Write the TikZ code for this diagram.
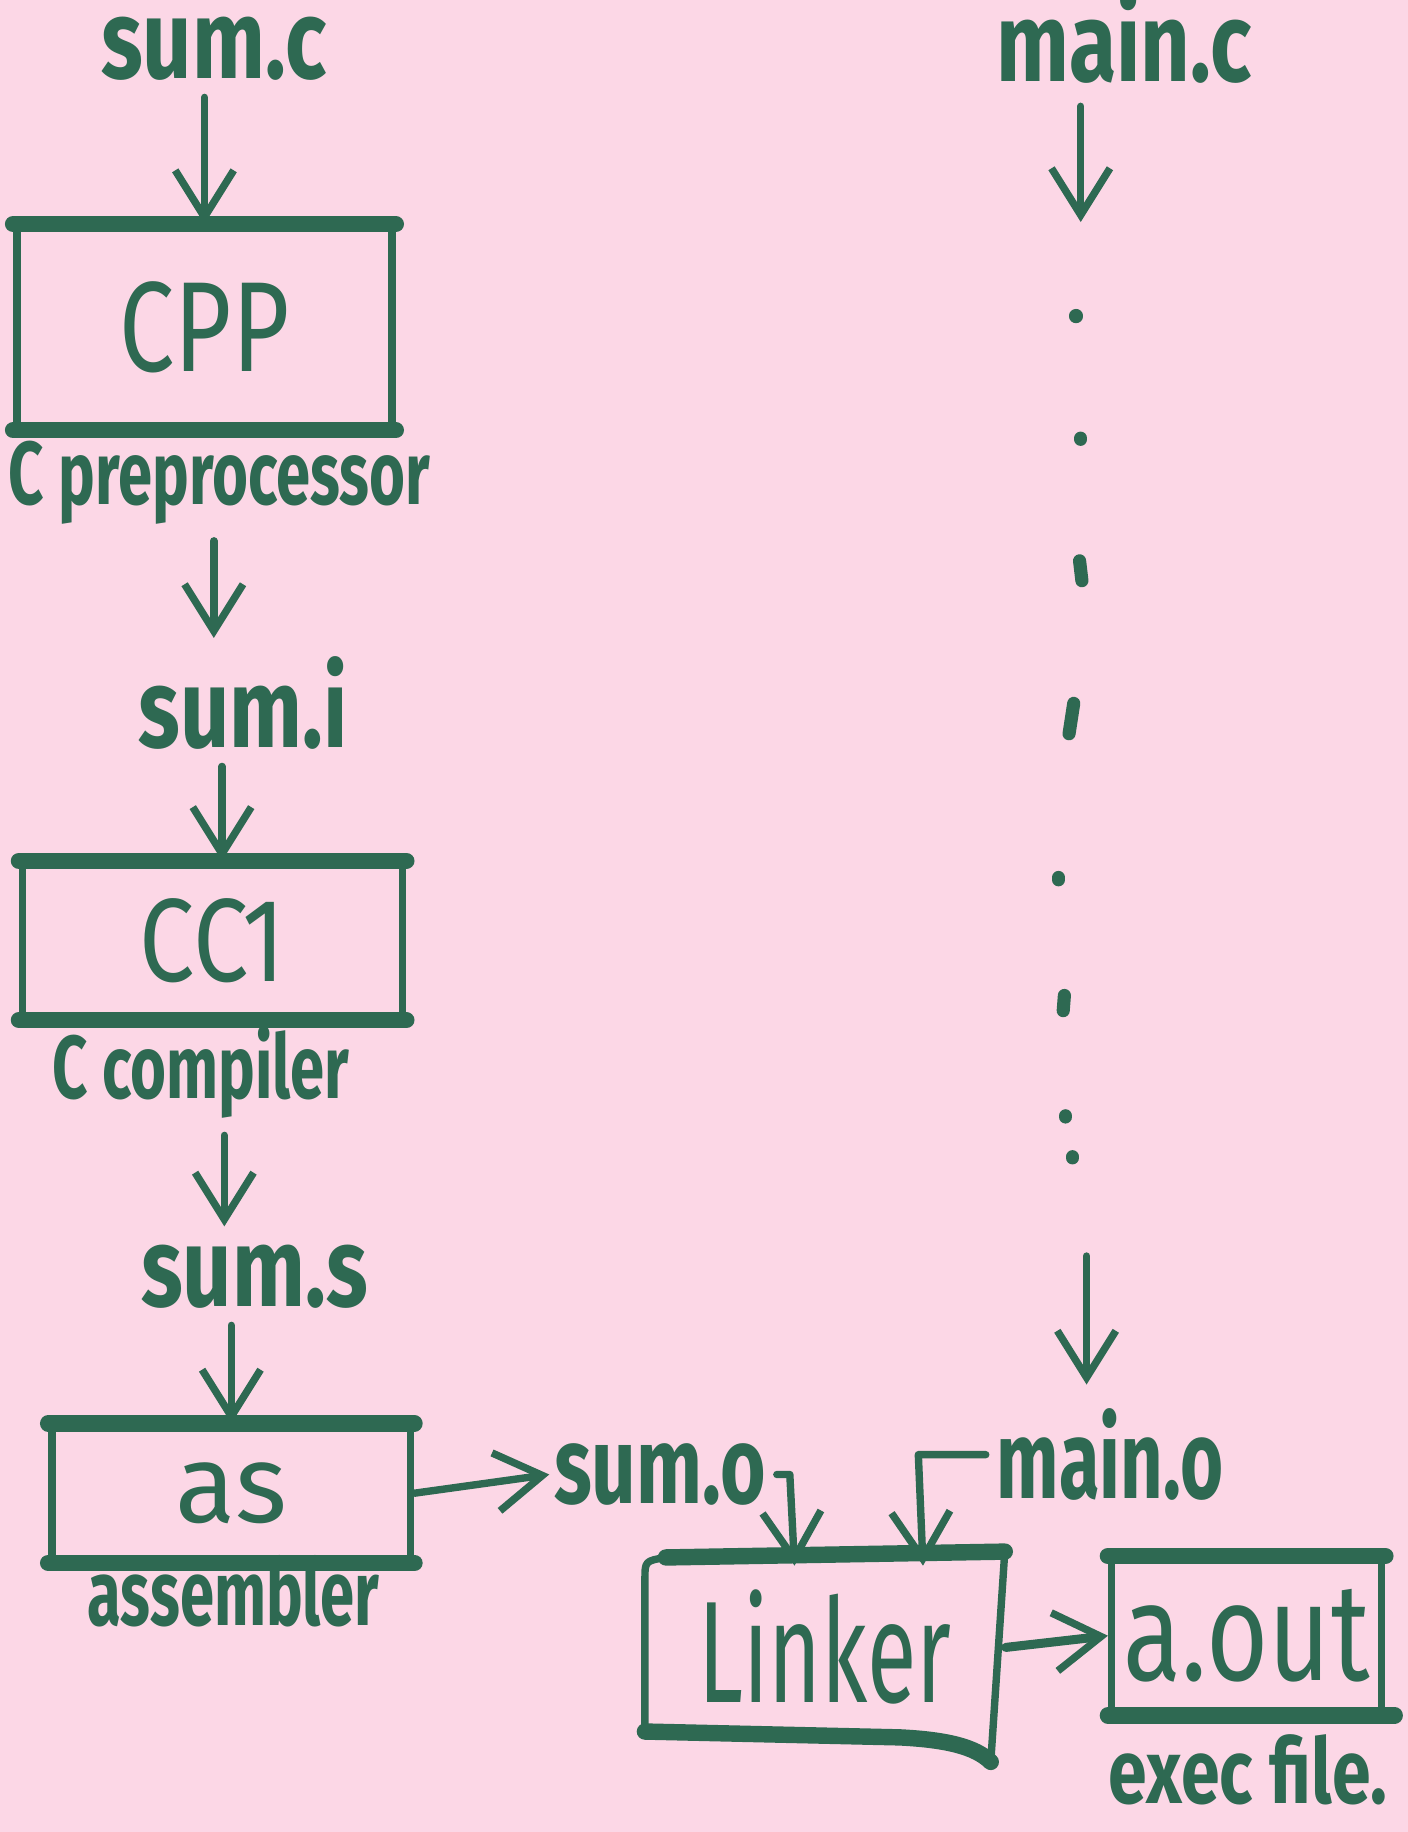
\documentclass[tikz,border=0pt]{standalone}
\usepackage{fontspec}
\usepackage{graphicx}
\setmainfont{Fira Sans}
\usetikzlibrary{arrows.meta}
\definecolor{ink}{RGB}{46,105,82}
\definecolor{paper}{RGB}{252,215,230}
\newcommand{\vstretch}[2]{\scalebox{1}[#1]{#2}}
\tikzset{
  lbl/.style={text=ink, font=\bfseries\fontsize{21}{24}\selectfont, inner sep=1pt},
  smalllbl/.style={text=ink, font=\bfseries\fontsize{15}{18}\selectfont, inner sep=1pt},
  boxlbl/.style={text=ink, font=\fontsize{24}{28}\selectfont},
  procbox/.style={draw=ink, line width=1.8pt, boxlbl, inner sep=0pt},
  arr/.style={draw=ink, line width=1.8pt, line cap=round, line join=round, -{Straight Barb[length=4mm,width=5mm,line width=1.8pt]}},
  link/.style={draw=ink, line width=1.8pt, line cap=round, line join=round},
  thick edge/.style={draw=ink, line width=4pt, line cap=round},
  dotseg/.style={draw=ink, line width=3.2pt, line cap=round}
}
\begin{document}
\begin{tikzpicture}[x=0.01cm,y=-0.01cm]
\useasboundingbox (0,0) rectangle (1205,1568);
\fill[paper] (0,0) rectangle (1205,1568);

% left column
\node[lbl] (sumc) at (183,42) {\vstretch{1.3}{sum.c}};
\node[procbox, minimum width=3.21cm, minimum height=1.70cm] (cpp) at (175,280) {\vstretch{1.3}{CPP}};
\node[smalllbl] (cpre) at (188,413) {\vstretch{1.45}{C preprocessor}};
\node[lbl] (sumi) at (208,602) {\vstretch{1.3}{sum.i}};
\node[procbox, minimum width=3.25cm, minimum height=1.30cm] (cc1) at (182,805) {\vstretch{1.2}{CC1}};
\node[smalllbl] (ccomp) at (172,918) {\vstretch{1.45}{C compiler}};
\node[lbl] (sums) at (218,1093) {\vstretch{1.3}{sum.s}};
\node[procbox, minimum width=3.07cm, minimum height=1.13cm, font=\fontsize{27}{30}\selectfont] (as) at (198,1278) {as};
\node[smalllbl] (asm) at (200,1362) {\vstretch{1.5}{assembler}};

% right column
\node[lbl] (mainc) at (962,32) {\vstretch{1.3}{main.c}};
\node[lbl, font=\bfseries\fontsize{18}{22}\selectfont] (maino) at (950,1245) {\vstretch{1.5}{main.o}};
\node[lbl, font=\bfseries\fontsize{19}{22}\selectfont] (sumo) at (565,1262) {\vstretch{1.4}{sum.o}};
\node[boxlbl, inner sep=0pt, minimum width=3.08cm, minimum height=1.70cm, font=\fontsize{22}{26}\selectfont] (linker) at (706,1410) {\vstretch{1.6}{Linker}};
\node[procbox, minimum width=2.31cm, minimum height=1.30cm, font=\fontsize{26}{30}\selectfont] (aout) at (1067,1400) {\vstretch{1.3}{a.out}};
\node[smalllbl, font=\bfseries\fontsize{17}{20}\selectfont] (exec) at (1068,1515) {\vstretch{1.3}{exec file.}};

% thick horizontal edges of boxes
\draw[thick edge] (cpp.north west) -- (cpp.north east);
\draw[thick edge] (cpp.south west) -- (cpp.south east);
\draw[thick edge] (cc1.north west) -- (cc1.north east);
\draw[thick edge] (cc1.south west) -- (cc1.south east);
\draw[thick edge] (as.north west) -- (as.north east);
\draw[thick edge] (as.south west) -- (as.south east);
\draw[thick edge] (aout.north west) -- (aout.north east);
\draw[thick edge] (aout.south west) -- ([xshift=0.08cm]aout.south east);

% Linker document shape
\draw[link] (552,1482) -- (552,1352) .. controls (552,1336) .. (570,1333);
\draw[thick edge] (570,1333) -- (860,1328);
\draw[link] (860,1328) -- (848,1508);
\draw[thick edge] (552,1482) -- (770,1487) .. controls (810,1489) and (835,1495) .. (848,1508);

% left column arrows
\draw[arr, shorten <=0.1cm] (sumc.south -| cpp.north) -- (cpp.north);
\draw[arr, shorten <=0.1cm, shorten >=0.12cm] (cpre.south -| 183,0) -- (sumi.north -| 183,0);
\draw[arr, shorten <=0.1cm] (sumi.south -| 190,0) -- (cc1.north -| 190,0);
\draw[arr, shorten <=0.1cm, shorten >=0.12cm] (ccomp.south -| 192,0) -- (sums.north -| 192,0);
\draw[arr, shorten <=0.1cm] (sums.south -| 198,0) -- (as.north);
\draw[arr] (as.east) -- (sumo.west);

% right column
\coordinate (m1) at (925,190);
\draw[arr, shorten <=0.15cm] (mainc.south -| m1) -- (m1);
\draw[dotseg] (921,270) -- (921,271);
\draw[dotseg] (925,375) -- (925,376);
\draw[dotseg] (924,480) -- (926,497);
\draw[dotseg] (919,602) -- (915,628);
\draw[dotseg] (906,751) -- (906,753);
\draw[dotseg] (911,852) -- (910,865);
\draw[dotseg] (912,955) -- (912,956);
\draw[dotseg] (918,990) -- (918,991);
\coordinate (m2) at (930,1075);
\coordinate (m3) at (930,1185);
\draw[arr] (m2) -- (m3);

% into linker
\coordinate (s2) at (680,1340);
\draw[arr] ([xshift=0.05cm]sumo.east) -- (sumo.east -| 676,0) -- (s2);
\coordinate (t2) at (790,1340);
\draw[arr] ([xshift=-0.05cm]maino.west) -- (maino.west -| 786,0) -- (t2);

\draw[arr, line width=2.2pt] (linker.east) -- (aout.west);
\end{tikzpicture}
\end{document}
